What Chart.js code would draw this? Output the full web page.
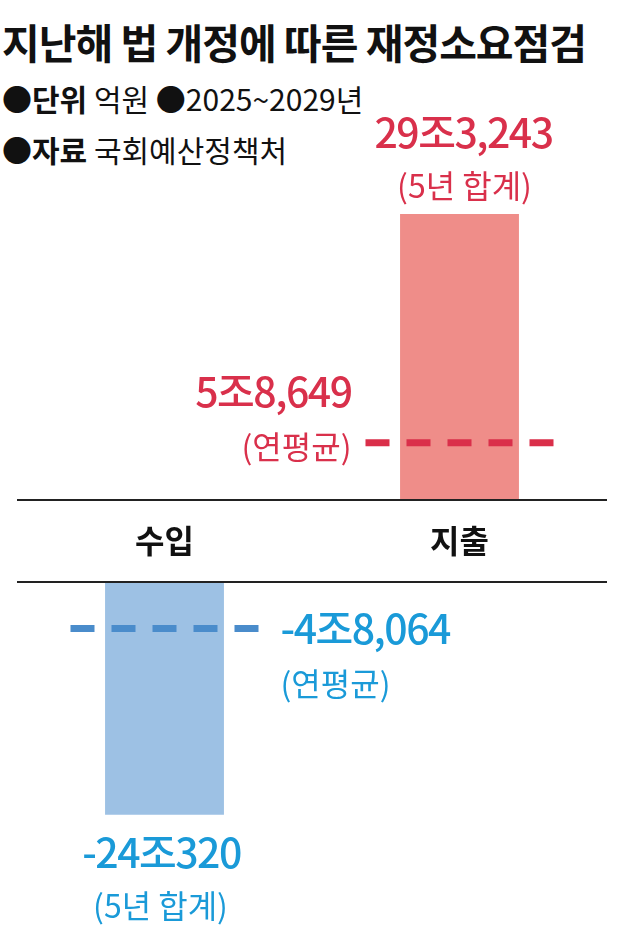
<!DOCTYPE html>
<html>
<head>
<meta charset="utf-8">
<script src="https://cdn.jsdelivr.net/npm/chart.js@4.4.0/dist/chart.umd.min.js"></script>
<style>
body { margin: 0; width: 640px; height: 945px; background: #fff; position: relative; overflow: hidden; font-family: "Noto Sans CJK KR", sans-serif; color: #111; }
.txt { position: absolute; left: 2px; white-space: nowrap; }
#title { top: 11px; font-size: 41px; font-weight: 700; letter-spacing: -1px; }
#unit { top: 76px; font-size: 30px; }
#source { top: 127px; font-size: 30px; }
.txt b { font-weight: 700; }
#topWrap { position: absolute; left: 0; top: 100px; }
#bottomWrap { position: absolute; left: 0; top: 500px; }
</style>
</head>
<body>
<div class="txt" id="title">지난해 법 개정에 따른 재정소요점검</div>
<div class="txt" id="unit">●<b>단위</b> 억원 ●2025~2029년</div>
<div class="txt" id="source">●<b>자료</b> 국회예산정책처</div>
<div id="topWrap"><canvas id="chartTop" width="640" height="402"></canvas></div>
<div id="bottomWrap"><canvas id="chartBottom" width="640" height="445"></canvas></div>
<script>
// 억원, 2025~2029
var categories = ["수입", "지출"];
var totals = [-240320, 293243];
var averages = [-48064, 58649];
var totalLabels = ["-24조320", "29조3,243"];
var averageLabels = ["-4조8,064", "5조8,649"];
var totalNote = "(5년 합계)";
var averageNote = "(연평균)";

var barColors = ["#9dc1e4", "#ef8d89"];
var dashColors = ["#4a8ccb", "#da2f4a"];
var textColors = ["#1a9ad8", "#d9304b"];
var numFont = "500 41px 'Noto Sans CJK KR'";
var noteFont = "400 32px 'Noto Sans CJK KR'";

function drawDash(ctx, x, y, i) {
    var cx = x.getPixelForValue(i);
    ctx.save();
    ctx.strokeStyle = dashColors[i];
    ctx.lineWidth = 7;
    ctx.setLineDash([24, 17]);
    ctx.beginPath();
    ctx.moveTo(cx - 94, y.getPixelForValue(averages[i]));
    ctx.lineTo(cx + 94, y.getPixelForValue(averages[i]));
    ctx.stroke();
    ctx.restore();
}

function text(ctx, str, px, py, font, color, align, base) {
    ctx.save();
    ctx.font = font;
    ctx.fillStyle = color;
    ctx.textAlign = align;
    ctx.textBaseline = base;
    ctx.letterSpacing = font === numFont ? "-1.5px" : "0px";
    ctx.fillText(str, px, py);
    ctx.restore();
}

//Upper part: 지출
var topPlugin = {
    id: "topPlugin",
    afterDatasetsDraw: function(chart) {
        var ctx = chart.ctx, x = chart.scales.x, y = chart.scales.y;
        var zero = y.getPixelForValue(0);
        ctx.fillStyle = "#222";
        ctx.fillRect(chart.chartArea.left, zero - 1, chart.chartArea.right - chart.chartArea.left, 2);
        drawDash(ctx, x, y, 1);
        var cx = x.getPixelForValue(1);
        var barTop = y.getPixelForValue(totals[1]);
        text(ctx, totalLabels[1], cx + 4, barTop - 66, numFont, textColors[1], "center", "alphabetic");
        text(ctx, totalNote, cx + 5, barTop - 28, noteFont, textColors[1], "center", "middle");
        var avg = y.getPixelForValue(averages[1]);
        text(ctx, averageLabels[1], cx - 108, avg - 36, numFont, textColors[1], "right", "alphabetic");
        text(ctx, averageNote, cx - 108, avg + 4, noteFont, textColors[1], "right", "middle");
    }
};

//Lower part: 수입
var bottomPlugin = {
    id: "bottomPlugin",
    afterDatasetsDraw: function(chart) {
        var ctx = chart.ctx, x = chart.scales.x, y = chart.scales.y;
        var zero = y.getPixelForValue(0);
        ctx.fillStyle = "#222";
        ctx.fillRect(chart.chartArea.left, zero - 1, chart.chartArea.right - chart.chartArea.left, 2);
        for (var i = 0; i < categories.length; i++) {
            text(ctx, categories[i], x.getPixelForValue(i), zero - 41, "700 32px 'Noto Sans CJK KR'", "#111", "center", "middle");
        }
        drawDash(ctx, x, y, 0);
        var cx = x.getPixelForValue(0);
        var avg = y.getPixelForValue(averages[0]);
        text(ctx, averageLabels[0], cx + 116, avg + 15, numFont, textColors[0], "left", "alphabetic");
        text(ctx, averageNote, cx + 116, avg + 55, noteFont, textColors[0], "left", "middle");
        var barEnd = y.getPixelForValue(totals[0]);
        text(ctx, totalLabels[0], cx - 3, barEnd + 53, numFont, textColors[0], "center", "alphabetic");
        text(ctx, totalNote, cx - 4, barEnd + 91, noteFont, textColors[0], "center", "middle");
    }
};

function baseOptions(min, max, pad) {
    return {
        responsive: false,
        animation: false,
        layout: { padding: pad },
        scales: {
            x: { display: false },
            y: { display: false, min: min, max: max }
        },
        plugins: { legend: { display: false }, tooltip: { enabled: false } }
    };
}

new Chart(document.getElementById("chartTop").getContext("2d"), {
    type: "bar",
    data: {
        labels: categories,
        datasets: [{
            data: [null, totals[1]],
            backgroundColor: barColors[1],
            barPercentage: 0.403,
            categoryPercentage: 1
        }]
    },
    options: baseOptions(0, 410000, { left: 17, right: 33, top: 0, bottom: 2 }),
    plugins: [topPlugin]
});

new Chart(document.getElementById("chartBottom").getContext("2d"), {
    type: "bar",
    data: {
        labels: categories,
        datasets: [{
            data: [totals[0], null],
            backgroundColor: barColors[0],
            barPercentage: 0.403,
            categoryPercentage: 1
        }]
    },
    options: baseOptions(-375000, 0, { left: 17, right: 33, top: 82, bottom: 0 }),
    plugins: [bottomPlugin]
});
</script>
</body>
</html>
